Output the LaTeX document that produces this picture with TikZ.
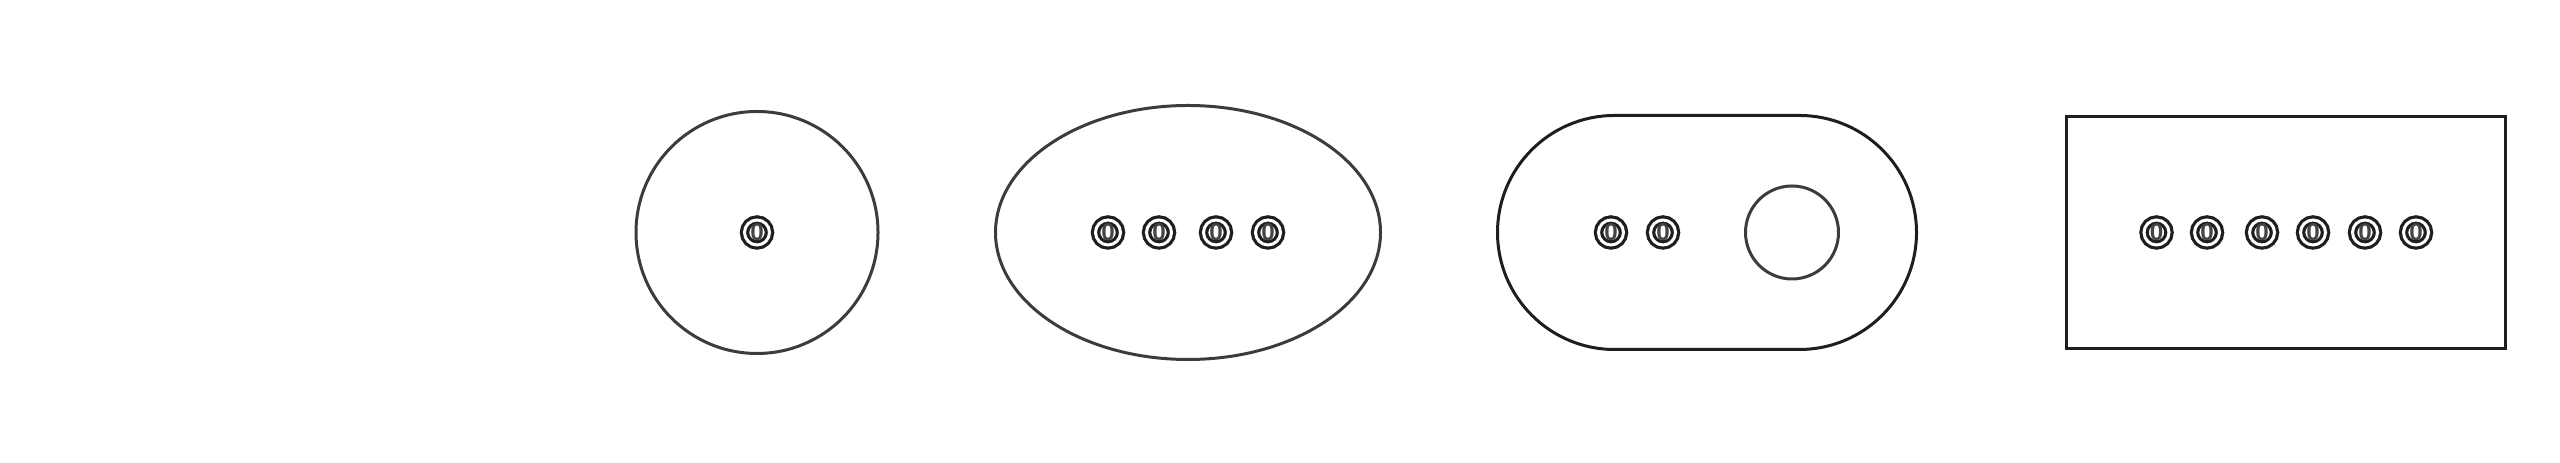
\documentclass[tikz,border=0pt]{standalone}
\usepackage{fontspec}
\newfontfamily\portfont{Liberation Sans}
\usetikzlibrary{shapes.geometric,shapes.misc}
\definecolor{ink}{HTML}{1E1E1E}
\definecolor{softink}{HTML}{3C3C3C}
\definecolor{label}{HTML}{444444}
\tikzset{
  port/.style={circle,draw=ink,double,double distance=0.03cm,line width=0.032cm,
    minimum size=0.25cm,inner sep=0pt,text=label,font=\portfont\bfseries\fontsize{6.9}{7}\selectfont},
  shell/.style={draw=#1,line width=0.03cm,inner sep=0pt},
}
\begin{document}
\begin{tikzpicture}
    \useasboundingbox (0,-2.305) rectangle (25.6,2.325);
    \node[shell=softink,circle,minimum size=2.42cm] (round) at (7.57,0) {};
    \node[shell=softink,ellipse,minimum width=3.85cm,minimum height=2.54cm] (oval) at (11.88,0) {};
    \node[shell=ink,rounded rectangle,minimum width=4.19cm,minimum height=2.34cm] (pill) at (17.07,0) {};
    \node[shell=ink,rectangle,minimum width=4.39cm,minimum height=2.32cm] (box) at (22.86,0) {};
    \node[shell=softink,circle,minimum size=0.93cm] (hole) at (17.92,0) {};
    \node[port] (round-p) at (7.57,0) {0};
    \foreach \x [count=\i] in {11.08,11.59,12.16,12.68}
      \node[port] (oval-p\i) at (\x,0) {0};
    \foreach \x [count=\i] in {16.11,16.63}
      \node[port] (pill-p\i) at (\x,0) {0};
    \foreach \x [count=\i] in {21.565,22.07,22.62,23.13,23.65,24.16}
      \node[port] (box-p\i) at (\x,0) {0};
  \end{tikzpicture}
\end{document}
